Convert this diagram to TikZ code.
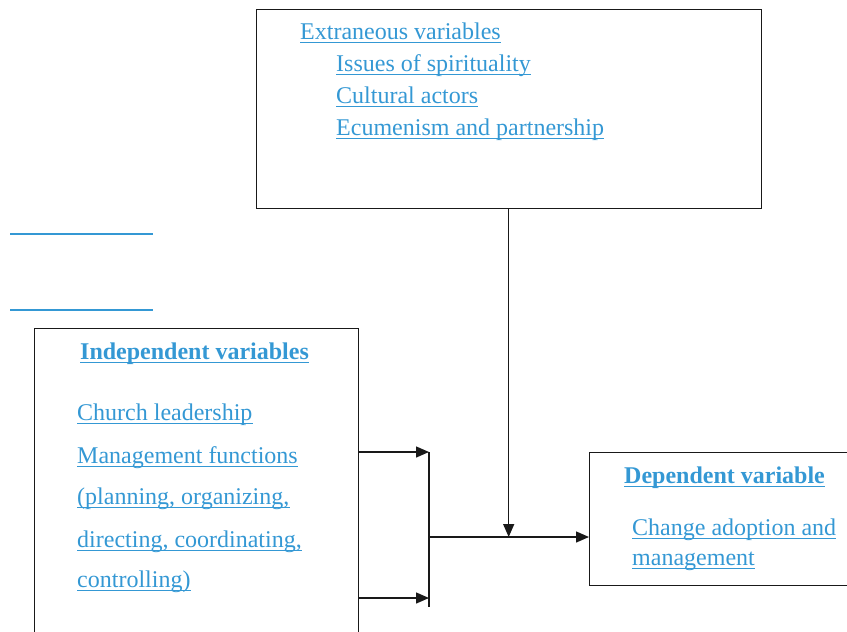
\documentclass[tikz,border=0pt]{standalone}
\usepackage{fontspec}
\setmainfont{Liberation Serif}
\usetikzlibrary{arrows.meta}
\definecolor{linkblue}{RGB}{52,152,212}
\begin{document}
\begin{tikzpicture}[x=1pt,y=-1pt,
	box/.style={draw=black!90,line width=1.4pt,inner sep=0pt,anchor=north west},
	txt/.style={inner sep=0pt,anchor=base west,text=linkblue,font=\fontsize{24}{28}\selectfont,
		append after command={([yshift=-3.5pt]\tikzlastnode.base west) edge[draw=linkblue,line width=1.8pt] ([yshift=-3.5pt]\tikzlastnode.base east)}},
	bold/.style={txt,font=\bfseries\fontsize{24}{28}\selectfont},
	arr/.style={-{Triangle[length=13pt,width=11pt]},line width=1.4pt,draw=black!90},
	line/.style={line width=1.4pt,draw=black!90}]
	\useasboundingbox (0,0) rectangle (847,632);
	%框
	\node[box,minimum width=505pt,minimum height=199pt] (extbox) at (256,9) {};
	\node[box,minimum width=324pt,minimum height=320pt] (indbox) at (34,328) {};
	\node[box,minimum width=280pt,minimum height=133pt] (depbox) at (589,452) {};
	%文字
	\node[txt] (ext) at (300,39) {Extraneous variables};
	\node[txt] (ext1) at (336,71) {Issues of spirituality};
	\node[txt] (ext2) at (336,103) {Cultural actors};
	\node[txt] (ext3) at (336,135) {Ecumenism and partnership};
	\node[bold] (ind) at (80,359) {Independent variables};
	\node[txt] (ind1) at (77,420) {Church leadership};
	\node[txt] (ind2) at (77,463) {Management functions};
	\node[txt] (ind3) at (77,504) {(planning, organizing,};
	\node[txt] (ind4) at (77,547) {directing, coordinating,};
	\node[txt] (ind5) at (77,587) {controlling)};
	\node[bold] (dep) at (624,483) {Dependent variable};
	\node[txt] (dep1) at (632,535) {Change adoption and};
	\node[txt] (dep2) at (632,565) {management};
	\draw [linkblue,line width=1.8pt] (10,234) -- (153,234);
	\draw [linkblue,line width=1.8pt] (10,310) -- (153,310);
	%线
	\coordinate (jtop) at (429,452);
	\coordinate (jmid) at (429,537);
	\coordinate (jbot) at (429,598);
	\coordinate (jend) at (429,607);
	\draw [arr] (indbox.east |- jtop) -- (jtop);
	\draw [arr] (indbox.east |- jbot) -- (jbot);
	\draw [line] (jtop) -- (jend);
	\draw [arr] (jmid) -- (depbox.west |- jmid);
	\draw [arr] ([xshift=-0.5pt]extbox.south) -- ([xshift=-0.5pt]extbox.south |- jmid);
\end{tikzpicture}
\end{document}
